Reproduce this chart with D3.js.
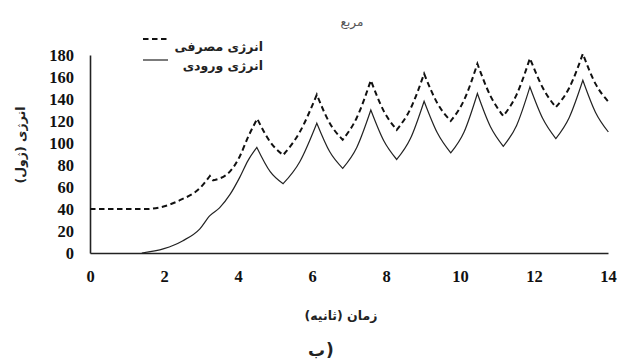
<!DOCTYPE html>
<html>
<head>
<meta charset="utf-8">
<script src="https://cdn.jsdelivr.net/npm/d3@7"></script>
<style>
  body { margin: 0; background: #fff; }
  .tick text { font-family: "Liberation Serif", serif; font-weight: bold; font-size: 16.5px; fill: #111; }
  .fa { font-family: "DejaVu Sans", sans-serif; font-weight: bold; fill: #222; direction: rtl; unicode-bidi: embed; }
</style>
</head>
<body>
<svg id="chart"></svg>
<script>
// input energy (solid line)
const inputTime = [1.4, 2.0, 2.5, 2.97, 3.24, 3.5, 3.78, 4.05, 4.27, 4.51, 4.87, 5.22, 5.67, 6.13, 6.48, 6.83, 7.21, 7.59, 7.94, 8.29, 8.66, 9.03, 9.39, 9.75, 10.11, 10.47, 10.82, 11.17, 11.53, 11.89, 12.24, 12.59, 12.95, 13.32, 13.66, 14.01];
const inputEnergy = [0, 4, 11, 22, 34, 41, 53, 69, 84, 96, 74, 63, 83, 118, 92, 77, 96, 130, 102, 85, 104, 138, 109, 91, 110, 145, 115, 97, 116, 151, 122, 104, 123, 157, 128, 110];

// consumed energy (dashed line)
const usedTime = [0, 1.5, 1.9, 2.43, 2.97, 3.24, 3.33, 3.78, 4.05, 4.28, 4.52, 4.87, 5.22, 5.67, 6.13, 6.48, 6.83, 7.21, 7.59, 7.94, 8.29, 8.66, 9.03, 9.39, 9.75, 10.11, 10.47, 10.82, 11.17, 11.53, 11.89, 12.24, 12.59, 12.95, 13.32, 13.66, 14.01];
const usedEnergy = [40, 40, 41.5, 48, 59, 70, 66, 74, 88, 106, 122, 101, 89, 110, 144, 118, 103, 123, 157, 129, 112, 131, 163, 136, 120, 139, 172, 143, 124.5, 144, 177, 150, 132.5, 150, 181, 154, 137.5];

const xTicks = [0, 2, 4, 6, 8, 10, 12, 14];
const yTicks = [0, 20, 40, 60, 80, 100, 120, 140, 160, 180];

const width = 622, height = 361;
const margin = { top: 55, right: 14, bottom: 108, left: 90 };
const w = width - margin.left - margin.right;
const h = height - margin.top - margin.bottom;

const svg = d3.select("#chart")
    .attr("width", width)
    .attr("height", height);

const g = svg.append("g")
    .attr("transform", `translate(${margin.left},${margin.top})`);

const x = d3.scaleLinear().domain([0, 14]).range([0, w]);
const y = d3.scaleLinear().domain([0, 180]).range([h, 0]);

// axes
const xAxis = g.append("g")
    .attr("transform", `translate(0,${h})`)
    .call(d3.axisBottom(x).tickValues(xTicks).tickSize(0).tickPadding(17));
const yAxis = g.append("g")
    .call(d3.axisLeft(y).tickValues(yTicks).tickSize(0).tickPadding(16));
[xAxis, yAxis].forEach(a => a.select(".domain").attr("stroke", "#222").attr("stroke-width", 1.6));
yAxis.selectAll(".tick text").attr("dy", "0.36em");

// split a series at its peaks and troughs so the cusps stay sharp
function cuspPath(ts, vs) {
    const pts = ts.map((t, i) => [t, vs[i]]);
    const segs = [];
    let cur = [pts[0]];
    let dir = 0;
    for (let i = 1; i < pts.length; i++) {
        const d = Math.sign(pts[i][1] - pts[i - 1][1]);
        if (d !== 0 && dir !== 0 && d !== dir) {
            segs.push(cur);
            cur = [pts[i - 1]];
        }
        if (d !== 0) dir = d;
        cur.push(pts[i]);
    }
    segs.push(cur);
    const line = d3.line()
        .x(d => x(d[0]))
        .y(d => y(d[1]))
        .curve(d3.curveMonotoneX);
    return segs.map((s, i) => i ? line(s).replace(/^M/, "L") : line(s)).join("");
}

g.append("path")
    .attr("d", cuspPath(usedTime, usedEnergy))
    .attr("fill", "none")
    .attr("stroke", "#111")
    .attr("stroke-width", 2)
    .attr("stroke-dasharray", "5.5,3.5");

g.append("path")
    .attr("d", cuspPath(inputTime, inputEnergy))
    .attr("fill", "none")
    .attr("stroke", "#222")
    .attr("stroke-width", 1.2);

// legend
const legend = svg.append("g");
legend.append("line")
    .attr("x1", 143).attr("x2", 168).attr("y1", 39).attr("y2", 39)
    .attr("stroke", "#111").attr("stroke-width", 2).attr("stroke-dasharray", "5.5,3.5");
legend.append("line")
    .attr("x1", 143).attr("x2", 168).attr("y1", 60).attr("y2", 60)
    .attr("stroke", "#222").attr("stroke-width", 1.2);
legend.append("text")
    .attr("class", "fa")
    .attr("x", 263).attr("y", 51)
    .attr("text-anchor", "start")
    .style("font-size", "12.5px")
    .text("انرژی مصرفی");
legend.append("text")
    .attr("class", "fa")
    .attr("x", 263).attr("y", 70)
    .attr("text-anchor", "start")
    .style("font-size", "12.5px")
    .text("انرژی ورودی");

// title
svg.append("text")
    .attr("x", 352).attr("y", 26)
    .attr("text-anchor", "middle")
    .style("font-family", "DejaVu Sans, sans-serif")
    .style("font-size", "12px")
    .attr("fill", "#555")
    .text("مربع");

// axis titles
svg.append("text")
    .attr("class", "fa")
    .attr("transform", "translate(25,145) rotate(-90)")
    .attr("text-anchor", "middle")
    .style("font-size", "12.5px")
    .text("انرژی (ژول)");

svg.append("text")
    .attr("class", "fa")
    .attr("x", 341).attr("y", 320)
    .attr("text-anchor", "middle")
    .style("font-size", "12.5px")
    .text("زمان (ثانیه)");

// panel label "ب)" drawn as two pieces so the bracket stays on the right
svg.append("text")
    .attr("x", 325).attr("y", 356)
    .attr("text-anchor", "end")
    .style("font-family", "DejaVu Sans, sans-serif")
    .style("font-weight", "bold")
    .style("font-size", "17px")
    .attr("fill", "#222")
    .text("ب");
svg.append("text")
    .attr("x", 326).attr("y", 356)
    .attr("text-anchor", "start")
    .style("font-family", "DejaVu Sans, sans-serif")
    .style("font-weight", "bold")
    .style("font-size", "17px")
    .attr("fill", "#222")
    .text(")");
</script>
</body>
</html>
